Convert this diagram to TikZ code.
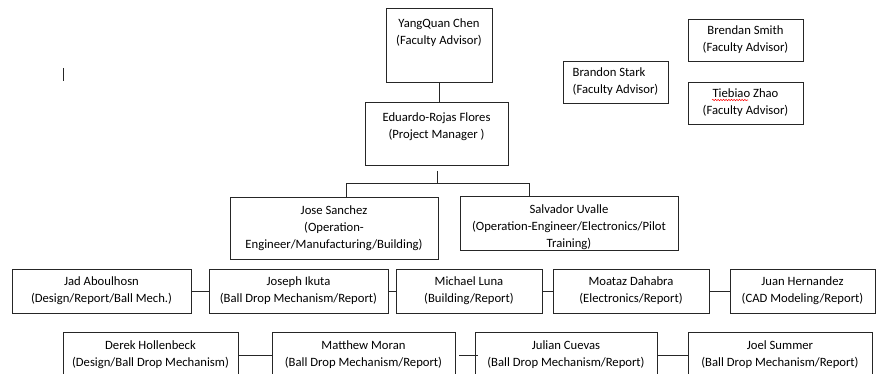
\documentclass[tikz,border=0pt]{standalone}
\usepackage{fontspec}
\setmainfont{Carlito}
\usepackage{tikz}
\usetikzlibrary{decorations.pathmorphing}

\begin{document}
\begin{tikzpicture}[x=0.75pt, y=-0.75pt,
                box/.style={draw=black!85, line width=0.6pt, align=center, inner sep=2pt,
                    font=\fontsize{9.5}{12.75}\selectfont},
                lbl/.style={align=center, inner sep=0pt, font=\fontsize{9.5}{12.75}\selectfont},
                rowa/.style={box, minimum height=33pt},
                rowb/.style={box, minimum height=34.5pt},
                link/.style={draw=black!85, line width=0.6pt}]
                \clip (0,0) rectangle (876,374);
                \node[box, minimum width=79.5pt, minimum height=55.5pt] (chen) at (439,45) {};
                \node[lbl, anchor=north] (chentxt) at ([yshift=-8.5pt]chen.north) {YangQuan Chen\\(Faculty Advisor)};
                \node[box, minimum width=107.25pt, minimum height=47.25pt] (flores) at (436.5,133.5) {};
                \node[lbl, anchor=north] (florestxt) at ([yshift=-8pt]flores.north) {Eduardo-Rojas Flores\\(Project Manager )};
                \node[box, align=left, minimum width=78.75pt, minimum height=31.5pt] (stark) at (615.5,82) {Brandon Stark\\(Faculty Advisor)};
                \node[box, minimum width=86.25pt, minimum height=31.5pt] (smith) at (745.5,40) {Brendan Smith\\(Faculty Advisor)};
                \node[box, minimum width=86.25pt, minimum height=31.5pt] (zhao) at (745.5,103) {Tiebiao Zhao\\(Faculty Advisor)};
                \node[box, minimum width=156pt, minimum height=46.5pt] (sanchez) at (334,228) {Jose Sanchez\\(Operation-\\Engineer/Manufacturing/Building)};
                \node[box, minimum width=163.5pt, minimum height=40.5pt] (uvalle) at (569,223) {};
                \node[lbl, anchor=north] (uvalletxt) at ([yshift=-6.5pt]uvalle.north) {Salvador Uvalle\\(Operation-Engineer/Electronics/Pilot\\Training)};
                \node[rowa, minimum width=134.25pt] (aboulhosn) at (101.5,291) {Jad Aboulhosn\\(Design/Report/Ball Mech.)};
                \node[rowa, minimum width=134.25pt] (ikuta) at (298.5,291) {Joseph Ikuta\\(Ball Drop Mechanism/Report)};
                \node[rowa, minimum width=109.5pt] (luna) at (469,291) {Michael Luna\\(Building/Report)};
                \node[rowa, minimum width=117pt] (dahabra) at (631,291) {Moataz Dahabra\\(Electronics/Report)};
                \node[rowa, minimum width=108.75pt] (hernandez) at (802.5,291) {Juan Hernandez\\(CAD Modeling/Report)};
                \node[rowb, minimum width=131.25pt] (hollenbeck) at (150.5,355) {Derek Hollenbeck\\(Design/Ball Drop Mechanism)};
                \node[rowb, minimum width=137.25pt] (moran) at (363.5,355) {Matthew Moran\\(Ball Drop Mechanism/Report)};
                \node[rowb, minimum width=136.5pt] (cuevas) at (566,355) {Julian Cuevas\\(Ball Drop Mechanism/Report)};
                \node[rowb, minimum width=138pt] (summer) at (780,355) {Joel Summer\\(Ball Drop Mechanism/Report)};
                \coordinate (stem) at (437,171);
                \coordinate (fork) at (437,183);
                \draw[link] (chen.south) -- (chen.south |- flores.north);
                \draw[link] (stem) -- (fork);
                \draw[link] (fork) -| ([xshift=9pt]sanchez.north);
                \draw[link] (fork) -| ([xshift=-30pt]uvalle.north);
                \draw[link] (aboulhosn) -- (ikuta);
                \draw[link] (ikuta) -- (luna);
                \draw[link] (luna) -- (dahabra);
                \draw[link] (dahabra) -- (hernandez);
                \draw[link] (hollenbeck) -- (moran);
                \draw[link] ([xshift=3pt]moran.east) -- ([xshift=2.25pt]cuevas.west);
                \draw[link] (cuevas) -- (summer);
                \draw[link] (63,68) -- (63,81);
                \draw[red, line width=0.4pt, decorate, decoration={snake, amplitude=0.5pt, segment length=2pt}] (712,100) -- (748,100);
            \end{tikzpicture}
\end{document}
